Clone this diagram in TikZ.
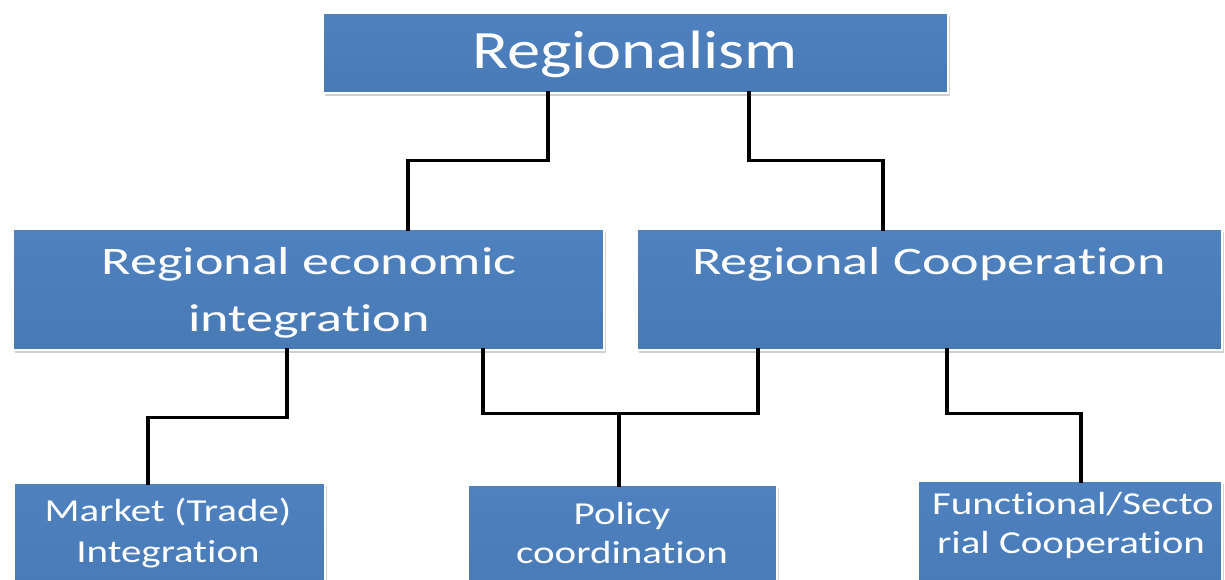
\documentclass[tikz,border=0pt]{standalone}
\usepackage{fontspec}
\setmainfont{Carlito}
\newfontfamily\fTop[FakeStretch=1.23,Ligatures={NoCommon,NoContextual}]{Carlito}
\newfontfamily\fMid[FakeStretch=1.39,Ligatures={NoCommon,NoContextual}]{Carlito}
\newfontfamily\fBot[FakeStretch=1.28,Ligatures={NoCommon,NoContextual}]{Carlito}
\usetikzlibrary{shadows}
\definecolor{boxtop}{RGB}{78,129,190}
\definecolor{boxbot}{RGB}{72,122,182}
\tikzset{
  box/.style={rectangle, inner sep=0pt, draw=white, line width=2.5pt,
    top color=boxtop, bottom color=boxbot,
    drop shadow={shadow xshift=2pt, shadow yshift=-3pt, opacity=0.3, fill=black!60}},
  txt/.style={text=white, inner sep=0pt, anchor=base},
  conn/.style={draw=black, line width=3.5pt, line cap=rect},
}
\begin{document}
\begin{tikzpicture}[x=1pt, y=-1pt]
\clip (0,0) rectangle (1225,579);
\fill[white] (0,0) rectangle (1225,579);
% boxes
\node[box, minimum width=625pt, minimum height=80pt] (top) at (635.5,53) {};
\node[box, minimum width=591pt, minimum height=121pt] (lmid) at (308.5,289.5) {};
\node[box, minimum width=585pt, minimum height=121pt] (rmid) at (929.5,289.5) {};
\node[box, minimum width=311pt, minimum height=120pt] (market) at (169.5,543) {};
\node[box, minimum width=309pt, minimum height=120pt] (policy) at (622.5,545) {};
\node[box, minimum width=304pt, minimum height=120pt] (func) at (1070,541) {};
% texts
\node[txt, font=\fTop\fontsize{54}{60}\selectfont] (t1) at (635,68) {Regionalism};
\node[txt, font=\fMid\fontsize{39}{44}\selectfont] (t2a) at (309,274) {Regional economic};
\node[txt, font=\fMid\fontsize{39}{44}\selectfont] (t2b) at (309,331) {integration};
\node[txt, font=\fMid\fontsize{39}{44}\selectfont] (t3) at (929,274) {Regional Cooperation};
\node[txt, font=\fBot\fontsize{32}{36}\selectfont] (t4a) at (168,521) {Market (Trade)};
\node[txt, font=\fBot\fontsize{32}{36}\selectfont] (t4b) at (168,562) {Integration};
\node[txt, font=\fBot\fontsize{32}{36}\selectfont] (t5a) at (622,524) {Policy};
\node[txt, font=\fBot\fontsize{32}{36}\selectfont] (t5b) at (622,563) {coordination};
\node[txt, font=\fBot\fontsize{32}{36}\selectfont] (t6a) at (1073,514) {Functional/Secto};
\node[txt, font=\fBot\fontsize{32}{36}\selectfont] (t6b) at (1071,553) {rial Cooperation};
% connectors
\coordinate (pj) at (619,415);
\draw[conn] ([xshift=-87.5pt,yshift=1.5pt]top.south) -- ++(0,67.5) -| ([xshift=99.5pt,yshift=-1.5pt]lmid.north);
\draw[conn] ([xshift=113.5pt,yshift=1.5pt]top.south) -- ++(0,67.5) -| ([xshift=-46.5pt,yshift=-1.5pt]rmid.north);
\draw[conn] ([xshift=-21.5pt,yshift=1.5pt]lmid.south) -- ++(0,67.5) -| ([xshift=-21.5pt,yshift=-1.5pt]market.north);
\draw[conn] ([xshift=174.5pt,yshift=1.5pt]lmid.south) -- ++(0,63.5) -| ([xshift=-171.5pt,yshift=1.5pt]rmid.south);
\draw[conn] (pj) -- ([yshift=-1.5pt]pj |- policy.north);
\draw[conn] ([xshift=17.5pt,yshift=1.5pt]rmid.south) -- ++(0,63.5) -| ([xshift=11pt,yshift=-1.5pt]func.north);
\end{tikzpicture}
\end{document}
